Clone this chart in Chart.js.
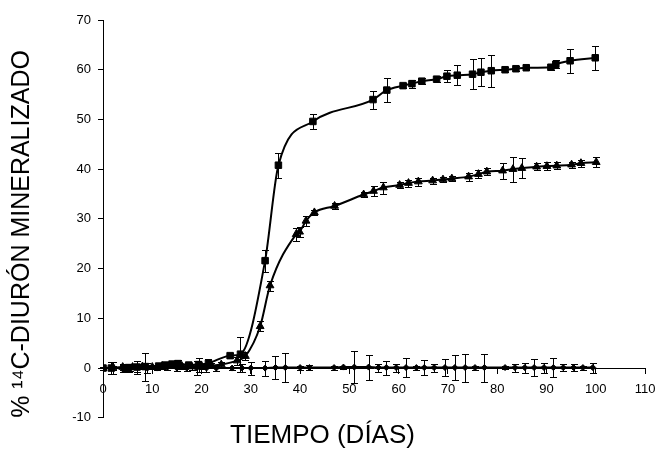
<!DOCTYPE html>
<html><head><meta charset="utf-8">
<script src="https://cdn.jsdelivr.net/npm/chart.js@4.4.1/dist/chart.umd.min.js"></script>
<style>html,body{margin:0;padding:0;background:#fff}</style>
</head><body>
<canvas id="c" width="656" height="457"></canvas>
<script>
// Serie con cuadrados
const sqDays = [0, 1.7, 4.5, 5.2, 6.9, 8.6, 11.3, 12.6, 14.0, 15.2, 17.4, 19.4, 21.4, 25.8, 27.9, 32.9, 35.6, 42.6, 54.8, 57.6, 60.9, 62.7, 64.7, 67.7, 69.8, 71.9, 75.0, 76.7, 78.8, 81.6, 83.8, 85.9, 90.9, 91.9, 94.8, 99.9];
const sqVals = [0, 0, 0, 0.1, 0.2, 0.3, 0.4, 0.6, 0.8, 0.9, 0.6, 0.7, 1.0, 2.5, 2.8, 21.6, 40.8, 49.6, 54.0, 55.9, 56.8, 57.2, 57.7, 58.1, 58.7, 58.9, 59.1, 59.5, 59.8, 60.0, 60.2, 60.4, 60.5, 61.1, 61.8, 62.4];
const sqErr  = [0.3, 1.2, 0.5, 0.8, 1.3, 2.8, 0.5, 0.6, 0.7, 0.8, 0.5, 1.4, 0.8, 0.5, 3.5, 2.2, 2.5, 1.5, 1.8, 2.4, 0.5, 0.8, 0.6, 0.6, 1.2, 2.0, 3.0, 2.8, 3.2, 0.5, 0.5, 0.5, 0.5, 0.8, 2.4, 2.4];

// Serie con triángulos
const trDays = [0, 2, 4, 6, 8, 10, 12, 14, 16, 18, 20, 22, 24, 27.2, 28.9, 31.9, 33.9, 39.2, 39.9, 41.2, 42.9, 47.0, 52.9, 54.9, 56.9, 60.2, 62.0, 64.0, 66.9, 69.0, 70.8, 74.2, 76.2, 77.9, 81.1, 83.2, 85.0, 88.0, 90.1, 92.1, 95.1, 97.0, 100.1];
const trVals = [0, 0.1, 0.2, 0.2, 0.3, 0.2, 0.4, 0.5, 0.4, 0.3, 0.4, 0.5, 0.7, 1.5, 2.4, 8.4, 16.6, 26.9, 27.4, 29.6, 31.3, 32.6, 34.9, 35.6, 36.3, 36.8, 37.2, 37.5, 37.7, 37.9, 38.1, 38.5, 39.0, 39.5, 39.7, 40.0, 40.2, 40.5, 40.6, 40.7, 40.9, 41.2, 41.4];
const trErr  = [0.3, 0.4, 0.5, 0.4, 0.5, 0.4, 0.6, 0.5, 0.5, 0.6, 0.5, 0.5, 0.6, 0.8, 0.8, 1.0, 1.0, 1.3, 1.0, 1.0, 0.5, 0.6, 0.5, 1.0, 1.2, 0.6, 0.7, 0.8, 0.6, 0.5, 0.5, 0.8, 0.8, 0.7, 1.6, 2.5, 2.0, 0.7, 0.8, 0.7, 0.6, 0.7, 1.0];

// Serie con rombos
const dmDays = [0, 2, 4, 5.5, 7, 9, 11, 13, 15, 17, 19, 21, 23, 26.2, 28.2, 30.0, 32.9, 35.0, 37.0, 40.0, 41.9, 46.9, 48.8, 51.0, 53.9, 55.9, 57.5, 59.5, 61.5, 63.6, 65.2, 67.2, 69.4, 71.4, 73.5, 75.5, 77.4, 81.6, 83.6, 85.6, 87.5, 89.5, 91.4, 93.4, 95.5, 97.4, 99.4];
const dmVals = [0, 0, 0, 0, 0.1, 0, 0, 0.1, 0, 0, 0, 0, 0, 0, 0, 0, 0, 0.1, 0.1, 0.1, 0.1, 0.1, 0.2, 0.2, 0.2, 0.1, 0.1, 0.1, 0.1, 0.1, 0.1, 0.1, 0.1, 0.1, 0.1, 0.1, 0.1, 0.1, 0.1, 0.1, 0.1, 0.1, 0.1, 0.1, 0.1, 0.1, 0.1];
const dmErr  = [0.3, 1.2, 0.8, 0.6, 0.8, 1.0, 0.4, 0.5, 0.6, 0.5, 1.4, 0.8, 0.5, 0.3, 0.8, 1.3, 1.5, 2.3, 3.0, 0.4, 0.5, 0.4, 0.3, 3.3, 2.5, 0.8, 1.4, 0.8, 1.9, 0.4, 1.5, 0.8, 1.7, 2.5, 2.8, 0.4, 2.8, 0.3, 0.8, 1.0, 1.7, 1.0, 1.9, 0.7, 0.7, 0.4, 1.0];

const xTicks = [0, 10, 20, 30, 40, 50, 60, 70, 80, 90, 100, 110];
const yTicks = [-10, 0, 10, 20, 30, 40, 50, 60, 70];
const xTitle = 'TIEMPO (DÍAS)';
const yTitle = '% \u00B9\u2074C-DIURÓN MINERALIZADO';

const FONT = "'Liberation Sans', Arial, sans-serif";
const pts = (d, v) => d.map((x, i) => ({x: x, y: v[i]}));

const errorBars = {
  id: 'errorBars',
  beforeDatasetsDraw(chart) {
    const ctx = chart.ctx, xs = chart.scales.x, ys = chart.scales.y;
    ctx.save();
    ctx.strokeStyle = '#000';
    ctx.lineWidth = 1;
    chart.data.datasets.forEach(ds => {
      ds.data.forEach((p, i) => {
        const e = ds.errors[i];
        if (!e) return;
        const x = Math.round(xs.getPixelForValue(p.x)) + 0.5;
        const y1 = Math.round(ys.getPixelForValue(p.y + e)) + 0.5;
        const y2 = Math.round(ys.getPixelForValue(p.y - e)) + 0.5;
        ctx.beginPath();
        ctx.moveTo(x, y1); ctx.lineTo(x, y2);
        ctx.moveTo(x - 3.5, y1); ctx.lineTo(x + 3.5, y1);
        ctx.moveTo(x - 3.5, y2); ctx.lineTo(x + 3.5, y2);
        ctx.stroke();
      });
    });
    ctx.restore();
  }
};

const common = {
  showLine: true, borderColor: '#000', backgroundColor: '#000', borderWidth: 2,
  pointBackgroundColor: '#000', pointBorderColor: '#000', pointBorderWidth: 1,
  cubicInterpolationMode: 'monotone', fill: false
};

new Chart(document.getElementById('c'), {
  type: 'scatter',
  data: {
    datasets: [
      Object.assign({label: 'rombos', data: pts(dmDays, dmVals), errors: dmErr, pointStyle: 'rectRot', pointRadius: 3}, common),
      Object.assign({label: 'triángulos', data: pts(trDays, trVals), errors: trErr, pointStyle: 'triangle', pointRadius: 4.5}, common),
      Object.assign({label: 'cuadrados', data: pts(sqDays, sqVals), errors: sqErr, pointStyle: 'rect', pointRadius: 4.6}, common)
    ]
  },
  options: {
    responsive: false,
    animation: false,
    layout: {padding: {left: 0, right: 11, top: 20, bottom: 0}},
    plugins: {
      legend: {display: false},
      tooltip: {enabled: false},
      title: {
        display: true, position: 'bottom', text: xTitle, color: '#000',
        font: {family: FONT, size: 26, weight: 'normal'},
        padding: {top: 2, bottom: 6}
      }
    },
    scales: {
      x: {
        type: 'linear', position: {y: 0}, min: 0, max: 110,
        afterBuildTicks: s => { s.ticks = xTicks.map(v => ({value: v})); },
        afterFit: s => { s.paddingLeft = 0; s.paddingRight = 0; },
        ticks: {color: '#000', font: {family: FONT, size: 13}, padding: 9, maxRotation: 0},
        grid: {display: true, drawOnChartArea: false, drawTicks: true, tickLength: 5, tickColor: '#000', color: '#000'},
        border: {display: true, color: '#000', width: 1}
      },
      y: {
        type: 'linear', position: 'left', min: -10, max: 70,
        afterBuildTicks: s => { s.ticks = yTicks.map(v => ({value: v})); },
        afterFit: s => { s.width = 103; },
        ticks: {color: '#000', font: {family: FONT, size: 13}, padding: 7},
        grid: {display: true, drawOnChartArea: false, drawTicks: true, tickLength: 5, tickColor: '#000', color: '#000'},
        border: {display: true, color: '#000', width: 1},
        title: {
          display: true, text: yTitle, color: '#000', align: 'start',
          font: {family: FONT, size: 25, weight: 'normal'},
          padding: {top: 7, bottom: 0}
        }
      }
    }
  },
  plugins: [errorBars]
});
</script>
</body></html>
